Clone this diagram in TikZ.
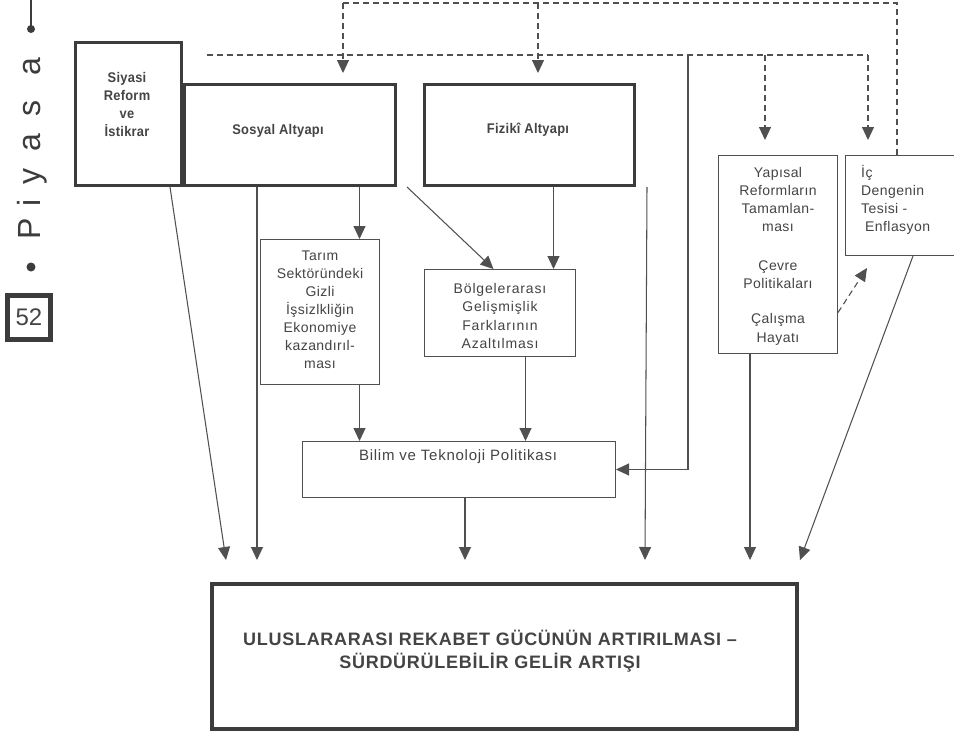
\documentclass[tikz,border=0pt]{standalone}
\usepackage{fontspec}
\setmainfont{Liberation Sans}[LetterSpace=3]
\usetikzlibrary{arrows.meta,calc}
\definecolor{lc}{HTML}{505050}
\definecolor{bc}{HTML}{3C3C3C}
\definecolor{tc}{HTML}{444444}
\begin{document}
\begin{tikzpicture}[x=1pt,y=-1pt,
 thinbox/.style={draw=lc, line width=1pt, anchor=north west, inner sep=0pt},
 thickbox/.style={draw=bc, line width=3pt, anchor=north west, inner sep=0pt},
 ln/.style={draw=lc, line width=1.05pt},
 arr/.style={ln, -{Triangle[width=12pt,length=13pt]}},
 dsh/.style={draw=lc, line width=1.1pt, dash pattern=on 6pt off 4pt},
 darr/.style={dsh, -{Triangle[width=12pt,length=13pt]}},
 lbl/.style={text=tc, align=center, font=\fontsize{14}{18}\selectfont, inner sep=0pt},
 blbl/.style={text=tc, align=center, font=\fontsize{14}{18}\selectfont\bfseries\addfontfeatures{FakeStretch=0.92,LetterSpace=2}, inner sep=0pt},
 letter/.style={rotate=90, anchor=base, text=bc, inner sep=0pt, font=\fontsize{32}{32}\selectfont\addfontfeatures{LetterSpace=0}},
]
\useasboundingbox (0,0) rectangle (954,731);
\fill[white] (0,0) rectangle (954,731);

% left margin
\draw[draw=bc, line width=1.6pt] (31,0) -- (31,29);
\fill[bc] (31,29) circle[radius=4pt];
\fill[bc] (31,267) circle[radius=4.5pt];
\foreach \c/\yy in {P/229, i/203, y/176, a/143, s/108, a/67}
  \node[letter] (pl\yy) at (40,\yy) {\c};
\node[draw=bc, line width=5pt, minimum width=43pt, minimum height=44pt, inner sep=0pt,
      text=tc, font=\fontsize{24}{24}\selectfont\addfontfeatures{LetterSpace=0}] (pg) at (29,317.5) {52};

% boxes
\node[thickbox, minimum width=106pt, minimum height=143pt] (siy) at (74,41) {};
\node[thickbox, minimum width=211pt, minimum height=101pt] (sos) at (183,83) {};
\node[thickbox, minimum width=210pt, minimum height=101pt] (fiz) at (423,83) {};
\node[thinbox, minimum width=119pt, minimum height=145pt] (tar) at (260,239) {};
\node[thinbox, minimum width=151pt, minimum height=87pt] (bol) at (424,269) {};
\node[thinbox, minimum width=119pt, minimum height=198pt] (yap) at (718,155) {};
\node[thinbox, minimum width=118pt, minimum height=100pt] (ic) at (845,155) {};
\node[thinbox, minimum width=313pt, minimum height=56pt] (bil) at (302,441) {};
\node[draw=bc, line width=4pt, anchor=north west, minimum width=585pt, minimum height=145pt, inner sep=0pt] (big) at (210,582) {};

% texts
\node[blbl] (siyt) at (127,104) {Siyasi\\Reform\\ve\\İstikrar};
\node[blbl] (sost) at (278,131) {Sosyal Altyapı};
\node[blbl] (fizt) at (528,130) {Fizikî Altyapı};
\node[lbl] (tart) at (320,310) {Tarım\\Sektöründeki\\Gizli\\İşsizlkliğin\\Ekonomiye\\kazandırıl-\\ması};
\node[lbl, font=\fontsize{14}{18.5}\selectfont\addfontfeatures{LetterSpace=6}] (bolt) at (500,316) {Bölgelerarası\\Gelişmişlik\\Farklarının\\Azaltılması};
\node[lbl, font=\fontsize{14}{18.3}\selectfont] (yapt) at (778,256) {Yapısal\\Reformların\\Tamamlan-\\ması\\[20pt]Çevre\\Politikaları\\[17pt]Çalışma\\Hayatı};
\node[lbl, align=left, anchor=west] (ict) at (861,200) {İç\\Dengenin\\Tesisi -\\\hspace*{4pt}Enflasyon};
\node[lbl, font=\fontsize{15}{18}\selectfont\addfontfeatures{LetterSpace=5}] (bilt) at (458,457) {Bilim ve Teknoloji Politikası};
\node[text=tc, align=center, inner sep=0pt, font=\fontsize{18}{23}\selectfont\bfseries\addfontfeatures{LetterSpace=4}] (bigt) at (490,651)
  {ULUSLARARASI REKABET GÜCÜNÜN ARTIRILMASI –\\SÜRDÜRÜLEBİLİR GELİR ARTIŞI};

% coordinates
\coordinate (b1) at (226,560);
\coordinate (b2) at (257,560);
\coordinate (b3) at (465,560);
\coordinate (b4) at (645,560);
\coordinate (b5) at (750,560);
\coordinate (b6) at (800,560);
\coordinate (tn) at ([xshift=39.5pt]tar.north);
\coordinate (bn) at ([xshift=53.5pt]bol.north);
\coordinate (bs) at ([xshift=25.5pt]bol.south);
\coordinate (j1) at (688,55);
\coordinate (t1) at (343,3);
\coordinate (t2) at (538,3);
\coordinate (t3) at (897,3);
\coordinate (h1) at (207,55);
\coordinate (h2) at (868,55);
\coordinate (h3) at (765,55);

% solid connectors
\draw[arr] ([xshift=-13pt]siy.south east) -- (b1);
\draw[arr] (sos.south -| b2) -- (b2);
\draw[arr] (sos.south -| tn) -- (tn);
\draw[arr] ([xshift=10pt]sos.south east) -- ([xshift=-6.5pt]bol.north);
\draw[arr] (fiz.south -| bn) -- (bn);
\draw[arr] ([xshift=11pt]fiz.south east) -- (b4);
\draw[arr] (j1) |- (bil.east);
\draw[arr] (tar.south -| tn) -- (bil.north -| tn);
\draw[arr] (bs) -- (bil.north -| bs);
\draw[arr] (bil.south -| b3) -- (b3);
\draw[arr] (yap.south -| b5) -- (b5);
\draw[arr] ([xshift=68pt]ic.south west) -- (b6);

% dashed connectors
\draw[darr] ([yshift=-58pt]yap.east) -- ([xshift=22pt,yshift=-12pt]ic.south west);
\draw[dsh] (t1) -- (t3) -- (ic.north -| t3);
\draw[darr, shorten >=10pt] (t1) -- (sos.north -| t1);
\draw[darr, shorten >=10pt] (t2) -- (fiz.north -| t2);
\draw[dsh] (h1) -- (h2);
\draw[darr, shorten >=15pt] (h3) -- (yap.north -| h3);
\draw[darr, shorten >=15pt] (h2) -- (ic.north -| h2);
\end{tikzpicture}
\end{document}
